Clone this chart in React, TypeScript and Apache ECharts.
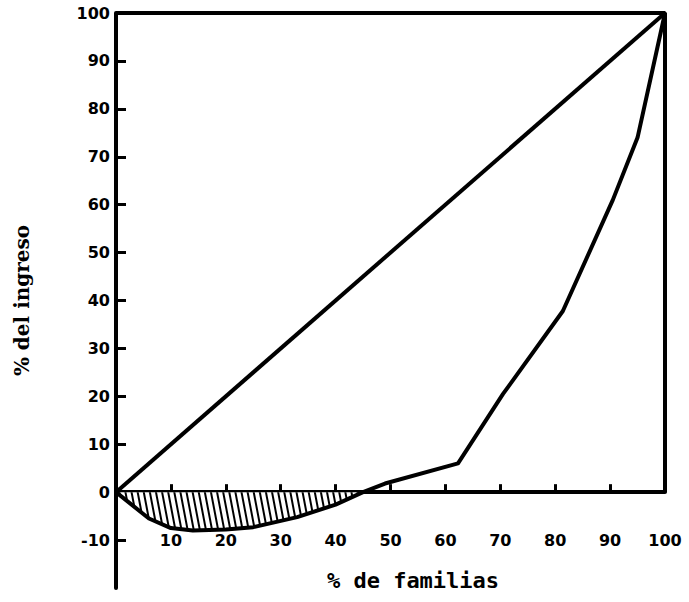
import React, { useEffect, useRef } from "react";
import * as echarts from "echarts";

// Data (Lorenz-type curve)
const xTitle = "% de familias";
const yTitle = "% del ingreso";
const xTickValues = [0, 10, 20, 30, 40, 50, 60, 70, 80, 90, 100];
const xLabelValues = [10, 20, 30, 40, 50, 60, 70, 80, 90, 100];
const yTickValues = [-10, 0, 10, 20, 30, 40, 50, 60, 70, 80, 90, 100];
const equalityLine = [
  [0, 0],
  [100, 100],
];
const frameLine = [
  [0, 100],
  [100, 100],
  [100, 0],
];
const curve = [
  [0, 0],
  [6, -5.5],
  [10, -7.5],
  [14, -8],
  [20, -7.8],
  [25, -7.3],
  [33, -5.2],
  [40, -2.6],
  [45, 0],
  [49, 1.8],
  [62.3, 6],
  [70.5, 20.5],
  [81.4, 37.8],
  [90.5, 61],
  [95, 74],
  [100, 100],
];
const negativePart = [
  [0, 0],
  [6, -5.5],
  [10, -7.5],
  [14, -8],
  [20, -7.8],
  [25, -7.3],
  [33, -5.2],
  [40, -2.6],
  [45, 0],
];

const FONT = "DejaVu Sans";

export default function App() {
  const ref = useRef<HTMLDivElement>(null);
  useEffect(() => {
    if (!ref.current) return;
    const chart = echarts.init(ref.current, null, { renderer: "svg" });
    const lineW = 4;
    const hatch = {
      symbol: "rect",
      symbolSize: 1,
      dashArrayX: [2, 4],
      dashArrayY: [10, 0],
      rotation: -Math.PI * 0.06,
      color: "#000",
      backgroundColor: "#fff",
    };
    chart.setOption({
      animation: false,
      backgroundColor: "#fff",
      aria: { enabled: true, decal: { show: true } },
      grid: {
        left: 116,
        right: 24,
        top: 13,
        bottom: 14,
        containLabel: false,
        outerBoundsMode: "none",
      },
      graphic: [
        {
          type: "text",
          x: 413,
          y: 580,
          style: {
            text: xTitle,
            fontFamily: "DejaVu Sans Mono",
            fontWeight: "bold",
            fontSize: 22,
            fill: "#000",
            align: "center",
            verticalAlign: "middle",
          },
        },
      ],
      xAxis: [
        {
          type: "value",
          min: 0,
          max: 100,
          interval: 10,
          axisLine: { show: true, onZero: true, lineStyle: { color: "#000", width: lineW } },
          axisTick: {
            show: true,
            inside: true,
            length: 8,
            customValues: xTickValues.filter((v) => v > 0 && v < 100),
            lineStyle: { color: "#000", width: 3 },
          },
          axisLabel: { show: false },
          splitLine: { show: false },
        },
        {
          type: "value",
          position: "bottom",
          min: 0,
          max: 100,
          interval: 10,
          axisLine: { show: false, onZero: false },
          axisTick: { show: false },
          axisLabel: {
            show: true,
            inside: true,
            margin: 40,
            customValues: xLabelValues,
            fontFamily: FONT,
            fontWeight: "bold",
            fontSize: 16,
            color: "#000",
          },
          splitLine: { show: false },
        },
      ],
      yAxis: {
        type: "value",
        min: -20,
        max: 100,
        interval: 10,
        name: yTitle,
        nameLocation: "middle",
        nameGap: 84,
        nameRotate: 90,
        nameTextStyle: {
          fontFamily: "DejaVu Serif",
          fontWeight: "bold",
          fontSize: 20,
          color: "#000",
        },
        axisLine: { show: true, onZero: false, lineStyle: { color: "#000", width: lineW } },
        axisTick: {
          show: true,
          inside: true,
          length: 10,
          customValues: yTickValues.filter((v) => v !== 0 && v !== 100),
          lineStyle: { color: "#000", width: 3 },
        },
        axisLabel: {
          show: true,
          margin: 6,
          customValues: yTickValues,
          fontFamily: FONT,
          fontWeight: "bold",
          fontSize: 16,
          color: "#000",
        },
        splitLine: { show: false },
      },
      series: [
        {
          type: "line",
          data: negativePart,
          showSymbol: false,
          symbol: "none",
          lineStyle: { width: 0 },
          itemStyle: { color: "#fff", decal: hatch },
          areaStyle: { color: "#fff", opacity: 1 },
          z: 1,
        },
        {
          type: "line",
          data: equalityLine,
          showSymbol: false,
          symbol: "none",
          lineStyle: { color: "#000", width: lineW },
          z: 3,
        },
        {
          type: "line",
          data: frameLine,
          showSymbol: false,
          symbol: "none",
          lineStyle: { color: "#000", width: lineW },
          z: 3,
        },
        {
          type: "line",
          data: curve,
          showSymbol: false,
          symbol: "none",
          lineStyle: { color: "#000", width: lineW, join: "round" },
          z: 4,
        },
      ],
    });
    return () => chart.dispose();
  }, []);
  return (
    <div
      ref={ref}
      style={{ position: "fixed", left: 0, top: 0, width: 689, height: 602, background: "#fff" }}
    />
  );
}
